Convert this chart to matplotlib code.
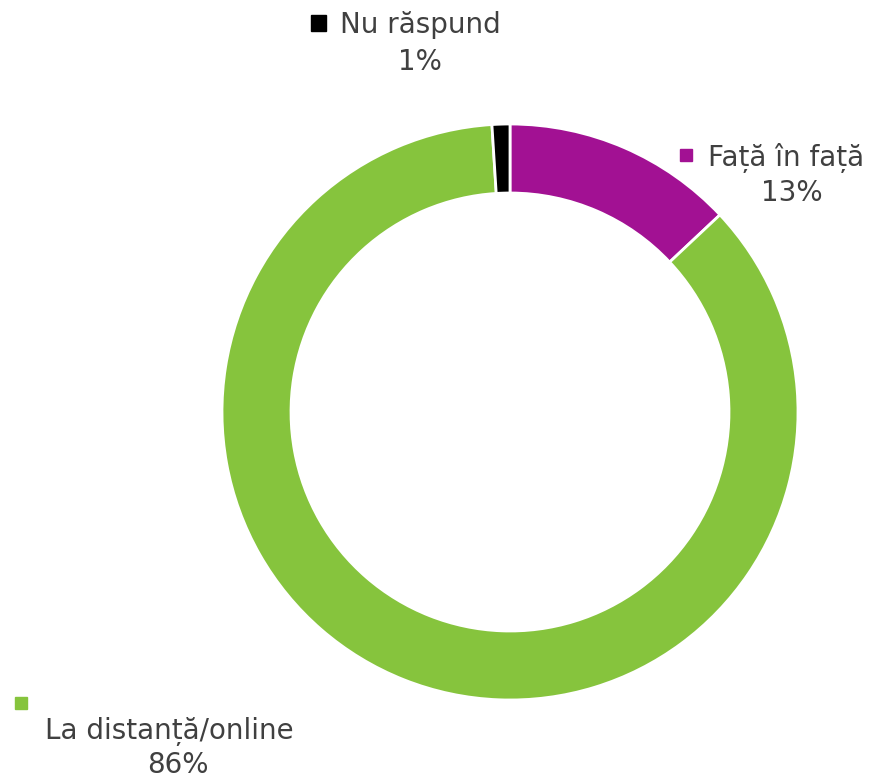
import matplotlib
matplotlib.use("Agg")
import matplotlib.pyplot as plt

# data
labels = ["Față în față", "La distanță/online", "Nu răspund"]
values = [13, 86, 1]
colors = ["#A21193", "#86C43D", "#000000"]

W, H = 880, 779
fig = plt.figure(figsize=(W / 100, H / 100), dpi=100)

# donut: center (510, 412) px, outer radius 288 px
cx, cy, r = 510, 412, 288
ax = fig.add_axes([(cx - r) / W, (H - cy - r) / H, 2 * r / W, 2 * r / H])
ax.pie(values, colors=colors, startangle=90, counterclock=False, radius=1,
       wedgeprops=dict(width=69 / 288, edgecolor="white", linewidth=2))
ax.set_xlim(-1, 1)
ax.set_ylim(-1, 1)
ax.set_aspect("equal")
ax.axis("off")

txt_color = "#404040"
fs = 20


def px(x, y):
    return x / W, 1 - y / H


# label positions (square x, square y, text x, text y, pct x, pct y)
spots = {
    "Nu răspund": (318, 23, 340, 25, 420, 62),
    "Față în față": (686, 155, 708, 158, 792, 193),
    "La distanță/online": (21, 703, 45, 731, 178, 765),
}

for lab, val, col in zip(labels, values, colors):
    sx, sy, tx, ty, pxx, pyy = spots[lab]
    size = 15 if lab == "Nu răspund" else 12
    fig.patches.append(plt.Rectangle(
        (px(sx - size / 2, sy + size / 2)), size / W, size / H,
        transform=fig.transFigure, color=col, zorder=3))
    fig.text(*px(tx, ty), lab, fontsize=fs, color=txt_color,
             ha="left", va="center")
    fig.text(*px(pxx, pyy), f"{val}%", fontsize=fs, color=txt_color,
             ha="center", va="center")

fig.savefig("out.png", dpi=100, facecolor="white")
